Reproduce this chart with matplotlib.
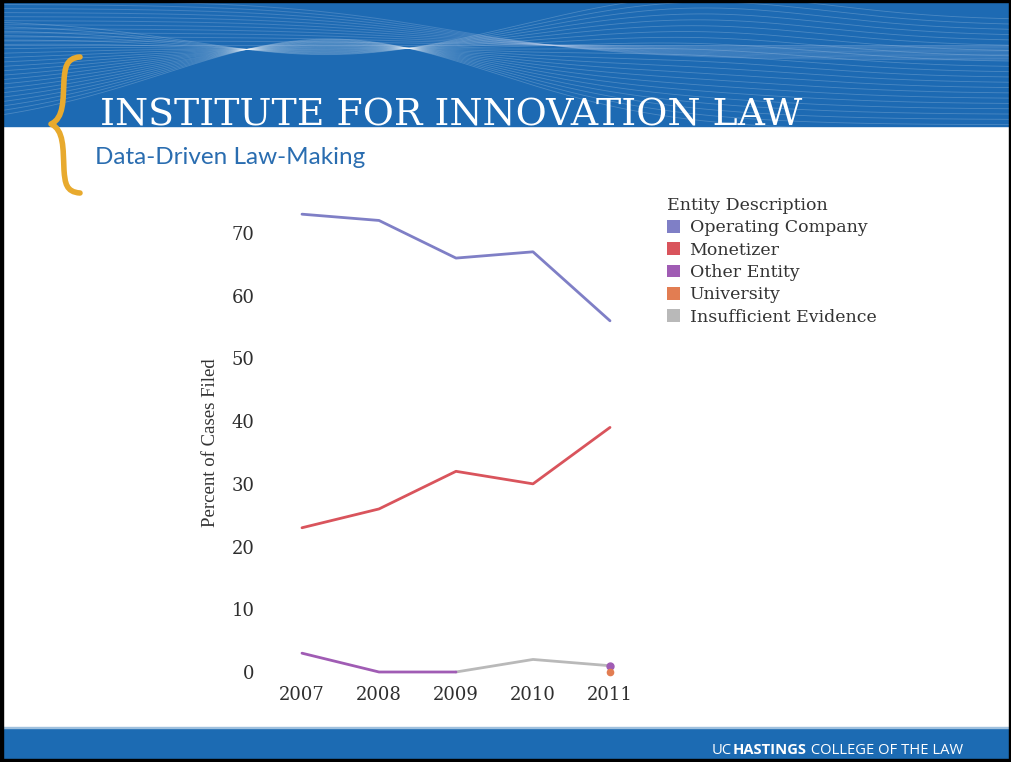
import numpy as np
import matplotlib
matplotlib.use("Agg")
import matplotlib.pyplot as plt
from matplotlib.patches import Rectangle, Patch, PathPatch
from matplotlib.path import Path

# ---- data ----
years = [2007, 2008, 2009, 2010, 2011]
operating_company = [73, 72, 66, 67, 56]
monetizer = [23, 26, 32, 30, 39]
other_entity = [3, 0, 0, np.nan, 1]
university = [np.nan, np.nan, np.nan, np.nan, 0]
insufficient_evidence = [np.nan, np.nan, 0, 2, 1]
y_ticks = [0, 10, 20, 30, 40, 50, 60, 70]
legend_labels = ["Operating Company", "Monetizer", "Other Entity", "University", "Insufficient Evidence"]
colors = ["#7f7fc6", "#d9545c", "#a05cb4", "#e27d52", "#b9b9b9"]

W, H = 1011, 762
fig = plt.figure(figsize=(W / 100, H / 100), dpi=100)
fig.patch.set_facecolor("white")

# ---- background / slide decoration (pixel coordinates) ----
bg = fig.add_axes([0, 0, 1, 1], zorder=0)
bg.set_xlim(0, W)
bg.set_ylim(H, 0)
bg.axis("off")

BLUE = "#1d6ab3"
bg.add_patch(Rectangle((0, 0), W, 126, color=BLUE, zorder=1))
xs = np.linspace(0, W, 400)
for i in range(22):
    t = i / 21
    y1 = 20 + 110 * t * (1 - 0.6 * np.exp(-((xs - 330) / 260) ** 2)) \
        + (35 - 60 * t) * np.exp(-((xs - 330) / 200) ** 2) \
        - 25 * np.exp(-((xs - 700) / 180) ** 2) * (1 - t)
    bg.plot(xs, y1, color="white", lw=0.6, alpha=0.2, zorder=2)
for i in range(12):
    t = i / 11
    y2 = 45 + 15 * t + 30 * np.tanh((xs - 450) / 180) * (1 - t) - 15
    bg.plot(xs, y2, color="#c9d6f0", lw=0.7, alpha=0.22, zorder=2)

# footer band
bg.add_patch(Rectangle((0, 728), W, 31, color="#1c6bb3", zorder=1))
bg.add_patch(Rectangle((0, 726.5), W, 1.5, color="#9fc0dd", zorder=1))
# black frame
bg.add_patch(Rectangle((0, 758.5), W, 4, color="black", zorder=3))
bg.add_patch(Rectangle((0, 0), 2.5, H, color="black", zorder=3))
bg.add_patch(Rectangle((W - 2.5, 0), 2.5, H, color="black", zorder=3))
bg.add_patch(Rectangle((0, 0), W, 2, color="black", zorder=3))

# gold brace drawn as a curve
verts = [(80, 57), (66, 58), (65, 68), (64, 80),
         (63, 100), (64, 118), (51, 124),
         (64, 130), (63, 148), (64, 170),
         (65, 183), (66, 192), (80, 193)]
codes = [Path.MOVETO, Path.CURVE4, Path.CURVE4, Path.CURVE4,
         Path.CURVE4, Path.CURVE4, Path.CURVE4,
         Path.CURVE4, Path.CURVE4, Path.CURVE4,
         Path.CURVE4, Path.CURVE4, Path.CURVE4]
bg.add_patch(PathPatch(Path(verts, codes), facecolor="none", edgecolor="#e8aa2e",
                       lw=4.0, capstyle="round", joinstyle="round", zorder=4))

# title / subtitle
bg.text(100, 125, "INSTITUTE FOR INNOVATION LAW", fontsize=27.3, color="white",
        family="DejaVu Serif", ha="left", va="baseline", zorder=4)
bg.text(95, 164, "Data-Driven Law-Making", fontsize=17.5, color="#2a6db0",
        family="Lato", ha="left", va="baseline", zorder=4)

# footer text (mixed weights)
fig.canvas.draw()
r = fig.canvas.get_renderer()
xcur = 712
for txt, wt in [("UC", "normal"), ("HASTINGS", "bold"), (" COLLEGE OF THE LAW", "normal")]:
    t = bg.text(xcur, 754, txt, fontsize=10.6, color="white", family="Open Sans",
                fontweight=wt, ha="left", va="baseline", zorder=4)
    bb = t.get_window_extent(renderer=r)
    xcur += bb.width + 0.5

# ---- chart axes ----
x_left_px, x_right_px = 302, 610
ppy = (x_right_px - x_left_px) / 4
xl0, xl1 = 2006.6, 2011.4
ax_l = x_left_px - (2007 - xl0) * ppy
ax_r = x_right_px + (xl1 - 2011) * ppy
y0_px, y70_px = 672, 233
ppu = (y0_px - y70_px) / 70
yl0, yl1 = -2, 75
ax_b = y0_px + (0 - yl0) * ppu
ax_t = y70_px - (yl1 - 70) * ppu
ax = fig.add_axes([ax_l / W, 1 - ax_b / H, (ax_r - ax_l) / W, (ax_b - ax_t) / H], zorder=5)
ax.patch.set_alpha(0)
ax.set_xlim(xl0, xl1)
ax.set_ylim(yl0, yl1)

lw = 2.0
ax.plot(years, operating_company, color=colors[0], lw=lw, solid_capstyle="round")
ax.plot(years, monetizer, color=colors[1], lw=lw, solid_capstyle="round")
ax.plot(years, insufficient_evidence, color=colors[4], lw=lw, solid_capstyle="round")
ax.plot(years, other_entity, color=colors[2], lw=lw, solid_capstyle="round")
ax.plot(years, other_entity, color=colors[2], lw=0, marker="o", ms=5,
        markevery=[4])
ax.plot(years, university, color=colors[3], lw=0, marker="o", ms=4.5)

for s in ax.spines.values():
    s.set_visible(False)
ax.set_xticks(years)
ax.set_xticklabels([str(y) for y in years])
ax.set_yticks(y_ticks)
ax.tick_params(length=0, labelsize=13, labelcolor="#2e2e2e")
ax.tick_params(axis="y", pad=12)
ax.tick_params(axis="x", pad=1)
for lab in ax.get_xticklabels() + ax.get_yticklabels():
    lab.set_family("DejaVu Serif")
ax.set_ylabel("Percent of Cases Filed", family="Liberation Serif", fontsize=13.5,
              color="#333333", labelpad=9)

handles = [Patch(facecolor=c, edgecolor="none") for c in colors]
leg = ax.legend(handles, legend_labels, title="Entity Description", loc="upper left",
                bbox_to_anchor=(1.0, 1.02), frameon=False,
                prop={"family": "DejaVu Serif", "size": 12.5},
                title_fontproperties={"family": "DejaVu Serif", "size": 12.5},
                handlelength=0.75, handleheight=0.75, handletextpad=0.55,
                labelspacing=0.31, borderaxespad=0)
leg._legend_box.align = "left"
for t in leg.get_texts():
    t.set_color("#333333")
leg.get_title().set_color("#333333")

fig.canvas.draw()
# place legend so title starts near x=667px, top near y=194px
bb = leg.get_window_extent(renderer=fig.canvas.get_renderer())
dx = 667 - bb.x0 - 7
dy = (H - 190) - bb.y1
inv = ax.transAxes.inverted()
p = inv.transform([(bb.x0 + dx, bb.y1 + dy)])[0]
leg.set_bbox_to_anchor((p[0], p[1]), transform=ax.transAxes)

fig.savefig("out.png", dpi=100, facecolor=fig.get_facecolor())
